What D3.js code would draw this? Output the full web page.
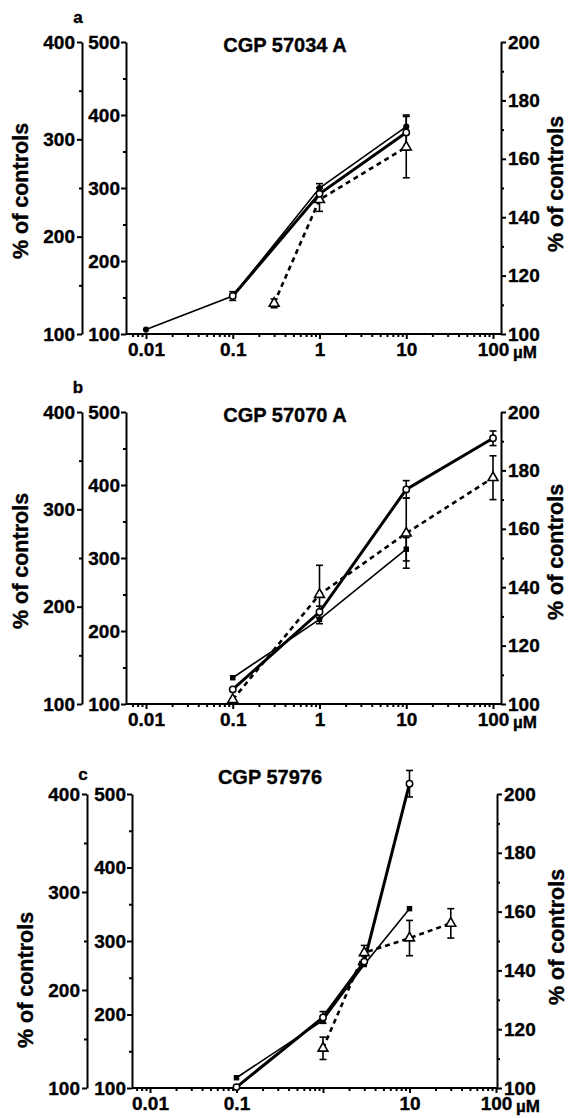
<!DOCTYPE html>
<html>
<head>
<meta charset="utf-8">
<script src="https://cdn.jsdelivr.net/npm/d3@7"></script>
<style>
  body { margin: 0; background: #fff; }
  svg { display: block; font-family: "Liberation Sans", Arial, sans-serif; font-weight: bold; }
  svg text { stroke: #000; stroke-width: 0.35px; fill: #000; }
  .axis path, .axis line { stroke: #000; stroke-width: 2; }
  .axis text { font-size: 19px; font-weight: bold; fill: #000; font-family: "Liberation Sans", Arial, sans-serif; }
</style>
</head>
<body>
<svg></svg>
<script>
var width = 570, height = 1118;

// panel texts
var panelLetters = ["a", "b", "c"];
var panelTitles = ["CGP 57034 A", "CGP 57070 A", "CGP 57976"];

// tick labels
var xTicks = [0.01, 0.1, 1, 10, 100];
var xLabelsAB = ["0.01", "0.1", "1", "10", "100"];
var xLabelsC = ["0.01", "0.1", "", "10", "100"];
var outerTicks = [100, 200, 300, 400];
var innerTicks = [100, 200, 300, 400, 500];
var rightTicks = [100, 120, 140, 160, 180, 200];

// panel a  (values in % of controls, right-axis units)
var aSolidConc = [0.01, 0.1, 1, 10];
var aSolidPct = [101.5, 113, 150, 171];
var aSolidErr = [0, 0, 1.5, 0];
var aThickConc = [0.1, 1, 10];
var aThickPct = [113, 148, 169];
var aThickErr = [1.5, 2, 6];
var aDashConc = [0.3, 1, 10];
var aDashPct = [110.5, 146, 164];
var aDashErr = [1.5, 4, 10.5];

// panel b
var bSolidConc = [0.1, 1, 10];
var bSolidPct = [109, 129, 153];
var bSolidErr = [0, 0, 4];
var bThickConc = [0.1, 1, 10, 100];
var bThickPct = [105, 131.5, 173.5, 191];
var bThickErr = [0, 2, 3, 2.5];
var bDashConc = [0.1, 1, 10, 100];
var bDashPct = [101.5, 137.5, 158.5, 177.5];
var bDashErr = [0, 10, 12, 7.5];

// panel c
var cSolidConc = [0.1, 1, 3, 10];
var cSolidPct = [103.5, 123, 142, 161];
var cSolidErr = [0, 0, 0, 0];
var cThickConc = [0.1, 1, 3, 10];
var cThickPct = [100.3, 124, 143, 203.5];
var cThickErr = [0, 2, 0, 4.5];
var cDashConc = [1, 3, 10, 30];
var cDashPct = [113.5, 146, 151, 156];
var cDashErr = [3.8, 2.5, 6, 5];

function zip(cs, vs, es) {
  return cs.map(function(c, i){ return {x: c, y: vs[i], e: es[i]}; });
}

var panels = [
  {top: 42, bottom: 334, outerX: 82, innerX: 126, rightX: 501, x0: 146, x1: 493,
   letterY: 23, titleX: 285, titleY: 52, leftLabel: [20, 191], rightLabel: [555, 184],
   xLabels: xLabelsAB,
   solid: zip(aSolidConc, aSolidPct, aSolidErr), thick: zip(aThickConc, aThickPct, aThickErr),
   dash: zip(aDashConc, aDashPct, aDashErr), solidMark: "circle"},
  {top: 412, bottom: 704, outerX: 82, innerX: 126, rightX: 501, x0: 146, x1: 493,
   letterY: 393, titleX: 285, titleY: 422, leftLabel: [20, 561], rightLabel: [555, 552],
   xLabels: xLabelsAB,
   solid: zip(bSolidConc, bSolidPct, bSolidErr), thick: zip(bThickConc, bThickPct, bThickErr),
   dash: zip(bDashConc, bDashPct, bDashErr), solidMark: "square"},
  {top: 794, bottom: 1088, outerX: 87, innerX: 132, rightX: 497, x0: 150, x1: 496,
   letterY: 780, titleX: 270, titleY: 784, leftLabel: [25, 980], rightLabel: [556, 937],
   xLabels: xLabelsC,
   solid: zip(cSolidConc, cSolidPct, cSolidErr), thick: zip(cThickConc, cThickPct, cThickErr),
   dash: zip(cDashConc, cDashPct, cDashErr), solidMark: "square"}
];

var svg = d3.select("svg").attr("width", width).attr("height", height);

// minor log ticks
var minorX = [];
[0.001, 0.01, 0.1, 1, 10, 100].forEach(function(dec){
  for (var k = 2; k <= 9; k++) minorX.push(dec * k);
});

panels.forEach(function(p, i){
  var g = svg.append("g");
  var x = d3.scaleLog().domain([0.01, 100]).range([p.x0, p.x1]);
  var yR = d3.scaleLinear().domain([100, 200]).range([p.bottom, p.top]);
  var yO = d3.scaleLinear().domain([100, 400]).range([p.bottom, p.top]);
  var yI = d3.scaleLinear().domain([100, 500]).range([p.bottom, p.top]);

  // outer left axis
  var go = g.append("g").attr("class", "axis").attr("transform", "translate(" + p.outerX + ",0)");
  go.call(d3.axisLeft(yO).tickValues(outerTicks).tickSize(5).tickSizeOuter(0).tickPadding(2).tickFormat(d3.format("d")));
  go.append("g").call(d3.axisLeft(yO).tickValues([150, 250, 350]).tickSize(3).tickFormat("")).select(".domain").remove();

  // inner left axis
  var gi = g.append("g").attr("class", "axis").attr("transform", "translate(" + p.innerX + ",0)");
  gi.call(d3.axisLeft(yI).tickValues(innerTicks).tickSize(5).tickSizeOuter(0).tickPadding(1).tickFormat(d3.format("d")));
  gi.append("g").call(d3.axisLeft(yI).tickValues([150, 250, 350, 450]).tickSize(3).tickFormat("")).select(".domain").remove();

  // right axis
  var gr = g.append("g").attr("class", "axis").attr("transform", "translate(" + p.rightX + ",0)");
  gr.call(d3.axisRight(yR).tickValues(rightTicks).tickSize(5).tickSizeOuter(0).tickPadding(2).tickFormat(d3.format("d")));
  gr.append("g").call(d3.axisRight(yR).tickValues([110, 130, 150, 170, 190]).tickSize(3).tickFormat("")).select(".domain").remove();

  // x axis
  var gx = g.append("g").attr("class", "axis").attr("transform", "translate(0," + p.bottom + ")");
  gx.call(d3.axisBottom(x).tickValues(xTicks).tickSize(5).tickPadding(4)
    .tickFormat(function(d, j){ return p.xLabels[j]; }));
  gx.select(".domain").remove();
  gx.append("line").attr("x1", p.innerX).attr("x2", p.rightX).attr("y1", 0).attr("y2", 0);
  var mx = gx.append("g").call(d3.axisBottom(x)
    .tickValues(minorX.filter(function(d){ return x(d) > p.innerX + 2 && x(d) < p.rightX - 1; }))
    .tickSize(3).tickFormat(""));
  mx.select(".domain").remove();
  gx.append("text").attr("x", x(100) + 20).attr("y", 24).attr("text-anchor", "start")
    .style("font-size", "17px").text("µM");

  // texts
  g.append("text").attr("x", p.outerX - 4).attr("y", p.letterY).attr("text-anchor", "middle")
    .style("font-size", "17px").text(panelLetters[i]);
  g.append("text").attr("x", p.titleX).attr("y", p.titleY).attr("text-anchor", "middle")
    .style("font-size", "20px").text(panelTitles[i]);
  g.append("text").attr("transform", "translate(" + p.leftLabel[0] + "," + p.leftLabel[1] + ") rotate(-90)")
    .attr("text-anchor", "middle").attr("dy", "0.35em").style("font-size", "21.5px").text("% of controls");
  g.append("text").attr("transform", "translate(" + p.rightLabel[0] + "," + p.rightLabel[1] + ") rotate(-90)")
    .attr("text-anchor", "middle").attr("dy", "0.35em").style("font-size", "21.5px").text("% of controls");

  var line = d3.line().x(function(d){ return x(d.x); }).y(function(d){ return yR(d.y); });

  // lines
  g.append("path").datum(p.dash).attr("d", line).attr("fill", "none")
    .attr("stroke", "#000").attr("stroke-width", 2.6).attr("stroke-dasharray", "5,4");
  g.append("path").datum(p.solid).attr("d", line).attr("fill", "none")
    .attr("stroke", "#000").attr("stroke-width", 1.6);
  g.append("path").datum(p.thick).attr("d", line).attr("fill", "none")
    .attr("stroke", "#000").attr("stroke-width", 3);

  // error bars
  var allErr = p.solid.concat(p.thick, p.dash).filter(function(d){ return d.e > 0; });
  var eb = g.append("g").attr("stroke", "#000").attr("stroke-width", 1.6);
  allErr.forEach(function(d){
    var cx = x(d.x);
    eb.append("line").attr("x1", cx).attr("x2", cx).attr("y1", yR(d.y - d.e)).attr("y2", yR(d.y + d.e));
    eb.append("line").attr("x1", cx - 3.5).attr("x2", cx + 3.5).attr("y1", yR(d.y - d.e)).attr("y2", yR(d.y - d.e));
    eb.append("line").attr("x1", cx - 3.5).attr("x2", cx + 3.5).attr("y1", yR(d.y + d.e)).attr("y2", yR(d.y + d.e));
  });

  // markers
  g.selectAll(".tri").data(p.dash).enter().append("path")
    .attr("d", d3.symbol().type(d3.symbolTriangle).size(42))
    .attr("transform", function(d){ return "translate(" + x(d.x) + "," + yR(d.y) + ")"; })
    .attr("fill", "#fff").attr("stroke", "#000").attr("stroke-width", 1.6);
  g.selectAll(".sol").data(p.solid).enter().append("path")
    .attr("d", d3.symbol().type(p.solidMark === "circle" ? d3.symbolCircle : d3.symbolSquare).size(30))
    .attr("transform", function(d){ return "translate(" + x(d.x) + "," + yR(d.y) + ")"; })
    .attr("fill", "#000");
  g.selectAll(".opn").data(p.thick).enter().append("circle")
    .attr("cx", function(d){ return x(d.x); }).attr("cy", function(d){ return yR(d.y); })
    .attr("r", 3.2).attr("fill", "#fff").attr("stroke", "#000").attr("stroke-width", 1.5);
});
</script>
</body>
</html>
